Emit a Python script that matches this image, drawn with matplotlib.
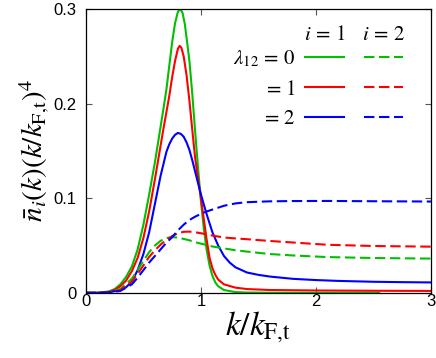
import numpy as np
import matplotlib
matplotlib.use('Agg')
import matplotlib.pyplot as plt

plt.rcParams['font.family'] = ['Liberation Sans', 'DejaVu Sans']
plt.rcParams['mathtext.fontset'] = 'stix'

# ---- data ----
# i = 1 (solid)
k_g1 = [0.0, 0.1, 0.2, 0.25, 0.3, 0.35, 0.4, 0.45, 0.5, 0.55, 0.6, 0.625, 0.65, 0.675, 0.7, 0.725, 0.75,
        0.775, 0.8, 0.82, 0.84, 0.86, 0.88, 0.9, 0.925, 0.95, 0.975, 1.0, 1.025, 1.05, 1.075, 1.1, 1.125,
        1.15, 1.2, 1.3, 1.4, 1.6, 2.0, 2.55]
n_g1 = [0.0, 0.0, 0.0015, 0.004, 0.009, 0.017, 0.028, 0.046, 0.072, 0.104, 0.138, 0.157, 0.176, 0.195,
        0.215, 0.24, 0.265, 0.285, 0.297, 0.300, 0.296, 0.284, 0.265, 0.245, 0.21, 0.17, 0.132, 0.097,
        0.068, 0.045, 0.029, 0.018, 0.011, 0.007, 0.003, 0.0008, 0.0003, 0.0001, 0.0, 0.0]

k_r1 = [0.0, 0.1, 0.2, 0.25, 0.3, 0.35, 0.4, 0.45, 0.5, 0.55, 0.6, 0.625, 0.65, 0.675, 0.7, 0.725, 0.75,
        0.775, 0.8, 0.815, 0.83, 0.85, 0.875, 0.9, 0.925, 0.95, 0.975, 1.0, 1.025, 1.05, 1.075, 1.1, 1.125,
        1.15, 1.2, 1.3, 1.4, 1.6, 2.0, 2.5, 3.0]
n_r1 = [0.0, 0.0, 0.001, 0.003, 0.007, 0.013, 0.023, 0.037, 0.058, 0.086, 0.12, 0.138, 0.156, 0.174,
        0.191, 0.208, 0.228, 0.245, 0.258, 0.261, 0.259, 0.25, 0.23, 0.203, 0.172, 0.142, 0.121, 0.1,
        0.078, 0.056, 0.037, 0.026, 0.019, 0.014, 0.009, 0.0055, 0.004, 0.003, 0.0025, 0.0022, 0.002]

k_b1 = [0.0, 0.1, 0.2, 0.3, 0.35, 0.4, 0.45, 0.5, 0.55, 0.6, 0.65, 0.7, 0.725, 0.75, 0.775, 0.8, 0.825,
        0.85, 0.875, 0.9, 0.925, 0.95, 0.975, 1.0, 1.05, 1.1, 1.15, 1.2, 1.25, 1.3, 1.4, 1.5, 1.6, 1.8,
        2.0, 2.2, 2.5, 2.75, 3.0]
n_b1 = [0.0, 0.0, 0.0005, 0.003, 0.006, 0.012, 0.024, 0.041, 0.064, 0.094, 0.124, 0.149, 0.157, 0.163,
        0.167, 0.169, 0.168, 0.165, 0.159, 0.151, 0.14, 0.128, 0.116, 0.104, 0.083, 0.064, 0.05, 0.039,
        0.032, 0.027, 0.0215, 0.019, 0.0172, 0.0148, 0.0135, 0.0126, 0.0117, 0.0113, 0.011]

# i = 2 (dashed)
k_2 = [0.0, 0.1, 0.2, 0.3, 0.4, 0.45, 0.5, 0.55, 0.6, 0.65, 0.7, 0.75, 0.8, 0.85, 0.9, 0.95, 1.0, 1.05,
       1.1, 1.2, 1.3, 1.4, 1.6, 1.8, 2.1, 2.5, 3.0]
n_g2 = [0.0, 0.0, 0.001, 0.004, 0.015, 0.024, 0.034, 0.043, 0.050, 0.055, 0.058, 0.0588, 0.0585, 0.057,
        0.0555, 0.0535, 0.052, 0.0505, 0.049, 0.047, 0.045, 0.0436, 0.041, 0.0395, 0.0378, 0.0368, 0.0362]
n_r2 = [0.0, 0.0, 0.0008, 0.003, 0.012, 0.02, 0.029, 0.038, 0.045, 0.051, 0.056, 0.06, 0.063, 0.0645,
        0.0647, 0.064, 0.063, 0.0618, 0.0605, 0.0585, 0.0575, 0.0567, 0.0548, 0.0532, 0.0508, 0.0495, 0.0488]
n_b2 = [0.0, 0.0, 0.0005, 0.002, 0.009, 0.016, 0.024, 0.032, 0.039, 0.046, 0.053, 0.0588, 0.066, 0.072,
        0.077, 0.0805, 0.0835, 0.086, 0.088, 0.092, 0.0945, 0.0958, 0.0967, 0.097, 0.0971, 0.0968, 0.0965]

colors = ['#00c000', '#ff0000', '#0000ff']
lam_labels = [r'$\lambda_{12}\,=\,0$', r'$=\,1$', r'$=\,2$']

fig = plt.figure(figsize=(4.36, 3.58), dpi=100)
ax = fig.add_axes([0.197, 0.182, 0.7915, 0.793])

lw = 1.5
solid = []
dashed = []
for kk, nn, c in zip([k_g1, k_r1, k_b1], [n_g1, n_r1, n_b1], colors):
    l, = ax.plot(kk, nn, color=c, lw=lw)
    solid.append(l)
for nn, c in zip([n_g2, n_r2, n_b2], colors):
    l, = ax.plot(k_2, nn, color=c, lw=lw, dashes=(5, 2.2))
    dashed.append(l)

ax.set_xlim(0, 3)
ax.set_ylim(0, 0.3)
ax.set_xticks([0, 1, 2, 3])
ax.set_xticklabels(['0', '1', '2', '3'])
ax.set_yticks([0, 0.1, 0.2, 0.3])
ax.set_yticklabels(['0', '0.1', '0.2', '0.3'])
ax.tick_params(direction='in', top=True, right=True, length=4, width=0.8, color='#555555',
               labelsize=12)
ax.tick_params(axis='x', pad=1)
ax.tick_params(axis='y', pad=7)
for s in ax.spines.values():
    s.set_linewidth(0.9)

ax.set_xlabel(r'$k/k_{\mathrm{F}{,}\mathrm{t}}$', fontsize=24, labelpad=0)
ax.set_ylabel(r'$\bar{n}_i(k)(k/k_{\mathrm{F}{,}\mathrm{t}})^4$', fontsize=21, labelpad=1)

leg = ax.legend(solid + dashed, lam_labels + ['', '', ''], ncol=2, markerfirst=False,
                loc='upper right', bbox_to_anchor=(0.919, 0.862), borderpad=0, borderaxespad=0,
                frameon=False, fontsize=15, handlelength=1.87, handletextpad=0.45,
                columnspacing=0.5, labelspacing=0.52)
ax.text(0.691, 0.91, r'$i\,=\,1$', transform=ax.transAxes, ha='center', va='center', fontsize=15)
ax.text(0.862, 0.91, r'$i\,=\,2$', transform=ax.transAxes, ha='center', va='center', fontsize=15)

fig.savefig('out.png', dpi=100)
